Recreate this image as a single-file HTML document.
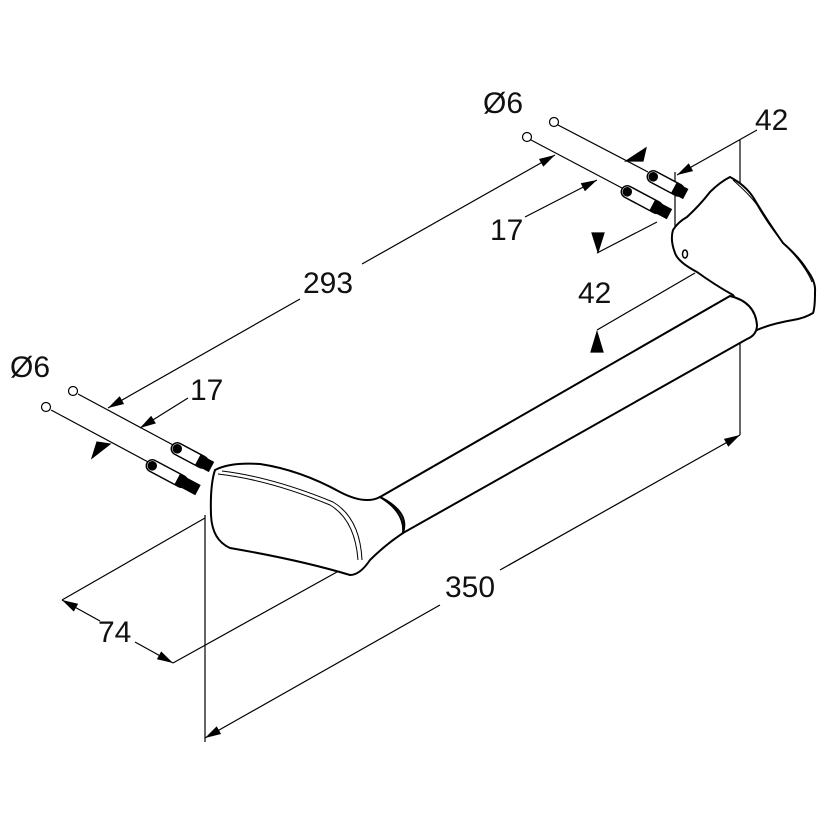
<!DOCTYPE html>
<html><head><style>html,body{margin:0;padding:0;background:#fff}svg{display:block}text{font-family:"Liberation Sans",sans-serif;font-size:30px;fill:#111}</style></head>
<body>
<svg width="832" height="832" viewBox="0 0 832 832" xmlns="http://www.w3.org/2000/svg">
<defs>
<marker id="a" viewBox="0 0 16 10" refX="16" refY="5" markerWidth="16" markerHeight="10" markerUnits="userSpaceOnUse" orient="auto-start-reverse"><path d="M0,0.5 L16,5 L0,9.5 z" fill="#000"/></marker>
</defs>
<g stroke="#000" fill="none" stroke-width="1.2">
<!-- 293 -->
<line x1="108" y1="408" x2="300" y2="299" marker-start="url(#a)"/>
<line x1="362" y1="264" x2="555" y2="155" marker-end="url(#a)"/>
<!-- left pins -->
<line x1="78" y1="394" x2="175" y2="446"/>
<line x1="51" y1="410" x2="150" y2="463"/>
<circle cx="73" cy="391" r="4.5" fill="#fff"/>
<circle cx="46" cy="407" r="4.5" fill="#fff"/>
<!-- left 17 -->
<line x1="188" y1="398" x2="140" y2="428" marker-end="url(#a)"/>
<polygon points="92,458 110,444 97,442" fill="#000"/>
<!-- right pins -->
<line x1="558" y1="125" x2="648" y2="172"/>
<line x1="531" y1="140" x2="622" y2="188"/>
<circle cx="554" cy="122" r="4.5" fill="#fff"/>
<circle cx="527" cy="137" r="4.5" fill="#fff"/>
<polygon points="626,161 646,148 643,161" fill="#000"/>
<line x1="525" y1="217" x2="597" y2="180" marker-end="url(#a)"/>
<polygon points="592,233 604,233 598,252" fill="#000"/>
<line x1="597" y1="253" x2="657" y2="222"/>
<!-- 42 top -->
<line x1="757" y1="130" x2="677" y2="175" marker-end="url(#a)"/>
<line x1="740" y1="140" x2="740" y2="185"/>
<line x1="740" y1="343" x2="740" y2="435"/>
<line x1="675" y1="172" x2="675" y2="230"/>
<!-- 42 middle -->
<line x1="597" y1="330" x2="695" y2="273"/>
<polygon points="591,352 603,352 597,332" fill="#000"/>
<!-- 350 -->
<line x1="205" y1="738" x2="440" y2="605" marker-start="url(#a)"/>
<line x1="500" y1="570" x2="740" y2="435" marker-end="url(#a)"/>
<line x1="205" y1="515" x2="205" y2="742"/>
<!-- 74 -->
<line x1="62" y1="600" x2="205" y2="518"/>
<line x1="173" y1="663" x2="355" y2="562"/>
<line x1="62" y1="600" x2="100" y2="621" marker-start="url(#a)"/>
<line x1="135" y1="642" x2="173" y2="663" marker-end="url(#a)"/>
</g>
<!-- right bracket -->
<g stroke="#000" stroke-width="2" fill="#fff">
<path d="M730,177 Q745,185 753,197 Q768,222 783,243 Q800,258 807,270 Q816,282 815,292 Q815,308 813,313 Q805,318 793,320 Q770,324 757,330 L733,295 Q715,285 697,272 Q678,262 675,253 Q670,240 673,230 Q678,222 687,217 Q700,205 710,192 Q720,182 730,177 z"/>
<!-- tube -->
<path d="M380,497 L730,296 Q755,302 757,325 Q757,335 747,339 L403,533 Q410,512 380,497 z"/>
<!-- left bracket -->
<path d="M215,470 Q230,462 260,464 Q300,470 340,492 Q365,505 380,497 Q405,512 403,533 Q385,545 370,560 Q360,575 350,575 Q300,560 230,548 Q212,540 211,515 Q210,485 215,470 z"/>
</g>
<g stroke="#000" stroke-width="1" fill="none">
<path d="M218,474 Q270,480 330,505 Q355,520 358,560"/>
<path d="M222,471 Q272,477 333,502 Q360,518 362,560"/>
<path d="M733,180 Q750,195 757,205 Q770,228 786,246 Q805,265 812,282"/>
<ellipse cx="685" cy="254" rx="2.5" ry="4" stroke-width="1.5"/>
</g>
<!-- anchors -->
<g stroke="#000" stroke-width="1.5" fill="#fff">
<g transform="translate(172,446) rotate(28)"><rect x="0" y="-6" width="40" height="12" rx="6"/><rect x="30" y="-5" width="14" height="10" fill="#000"/><circle cx="6" cy="0" r="4" fill="#000"/></g>
<g transform="translate(147,463) rotate(28)"><rect x="0" y="-6" width="45" height="12" rx="6"/><rect x="35" y="-5" width="22" height="10" fill="#000"/><circle cx="6" cy="0" r="4" fill="#000"/></g>
<g transform="translate(648,174) rotate(28)"><rect x="0" y="-6" width="40" height="12" rx="6"/><rect x="30" y="-5" width="12" height="10" fill="#000"/><circle cx="6" cy="0" r="4" fill="#000"/></g>
<g transform="translate(622,189) rotate(28)"><rect x="0" y="-6" width="45" height="12" rx="6"/><rect x="35" y="-5" width="18" height="10" fill="#000"/><circle cx="6" cy="0" r="4" fill="#000"/></g>
</g>
<text x="483" y="113">Ø6</text>
<text x="755" y="130">42</text>
<text x="490" y="240">17</text>
<text x="303" y="293">293</text>
<text x="578" y="303">42</text>
<text x="10" y="377">Ø6</text>
<text x="190" y="400">17</text>
<text x="445" y="597">350</text>
<text x="98" y="642">74</text>
</svg>
</body></html>
